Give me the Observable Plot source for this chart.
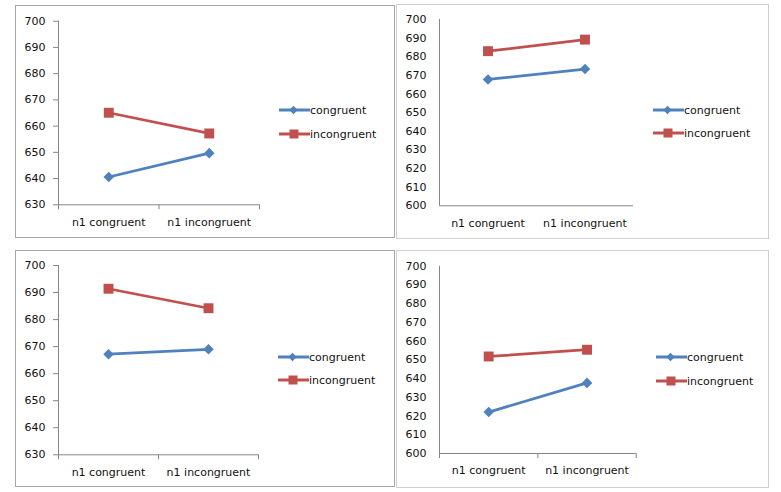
<!DOCTYPE html>
<html>
<head>
<meta charset="utf-8">
<script src="https://cdn.jsdelivr.net/npm/d3@7"></script>
<script src="https://cdn.jsdelivr.net/npm/@observablehq/plot@0.6"></script>
<style>
  html, body { margin: 0; padding: 0; background: #fff; }
  #page { position: relative; width: 781px; height: 492px; overflow: hidden; font-family: "DejaVu Sans", sans-serif; }
  .box { position: absolute; box-sizing: border-box; border: 1px solid #a6a6a6; }
  .box.light { border-color: #cfcfcf; }
  .plot { position: absolute; }
  .legend { position: absolute; font: 11px "DejaVu Sans", sans-serif; color: #111; }
  .legend .item { position: absolute; left: 0; display: flex; align-items: center; white-space: nowrap; height: 14px; }
  .legend svg { display: block; }
</style>
</head>
<body>
<div id="page"></div>
<script>
// ---- data ----
const categories = ["n1 congruent", "n1 incongruent"];
const series = ["congruent", "incongruent"];
const seriesColors = ["#4F81BD", "#C0504D"];

const panelA_congruent = [640.6, 649.7];
const panelA_incongruent = [665.1, 657.2];
const panelB_congruent = [667.8, 673.4];
const panelB_incongruent = [683.0, 689.2];
const panelC_congruent = [667.2, 669.0];
const panelC_incongruent = [691.4, 684.2];
const panelD_congruent = [622.1, 637.7];
const panelD_incongruent = [651.8, 655.4];

const yDomainA = [630, 700];
const yDomainB = [600, 700];
const yDomainC = [630, 700];
const yDomainD = [600, 700];
const yStep = 10;

// ---- layout ----
const panels = [
  {values: [panelA_congruent, panelA_incongruent], yDomain: yDomainA,
   box: {left: 15, top: 5, width: 379, height: 232}, light: false,
   margins: {top: 15.7, right: 135, bottom: 32.7, left: 43}, yTicks: true, xTicks: true,
   legend: {left: 279, top: 110, gap: 24}},
  {values: [panelB_congruent, panelB_incongruent], yDomain: yDomainB,
   box: {left: 396, top: 4, width: 372, height: 234}, light: true,
   margins: {top: 15, right: 135, bottom: 32.7, left: 43}, yTicks: false, xTicks: false,
   legend: {left: 653, top: 110, gap: 23}},
  {values: [panelC_congruent, panelC_incongruent], yDomain: yDomainC,
   box: {left: 15, top: 250, width: 379, height: 236}, light: false,
   margins: {top: 15, right: 136, bottom: 31.7, left: 43}, yTicks: true, xTicks: true,
   legend: {left: 278, top: 357, gap: 23}},
  {values: [panelD_congruent, panelD_incongruent], yDomain: yDomainD,
   box: {left: 396, top: 250, width: 372, height: 237}, light: true,
   margins: {top: 15.7, right: 132.3, bottom: 34, left: 43}, yTicks: false, xTicks: true,
   legend: {left: 656, top: 357, gap: 24}}
];

const page = document.getElementById("page");
const axisGray = "#868686";

function makePlot(p) {
  const data = series.flatMap((s, si) =>
    p.values[si].map((v, i) => ({series: s, cat: categories[i], x: i + 0.5, y: v})));
  const [lo, hi] = p.yDomain;
  return Plot.plot({
    width: p.box.width,
    height: p.box.height,
    marginTop: p.margins.top,
    marginRight: p.margins.right,
    marginBottom: p.margins.bottom,
    marginLeft: p.margins.left,
    style: {fontFamily: "DejaVu Sans, sans-serif", fontSize: "11px", background: "transparent", color: "#111"},
    x: {domain: [0, categories.length], axis: null, label: null},
    y: {domain: p.yDomain, axis: null, label: null},
    color: {domain: series, range: seriesColors},
    marks: [
      Plot.axisY({ticks: d3.range(lo, hi + 1, yStep), tickSize: p.yTicks ? 5 : 0,
                  tickPadding: p.yTicks ? 8 : 13, tickFormat: d => String(d),
                  stroke: axisGray, fill: "#111", label: null, fontSize: 11}),
      Plot.axisX({ticks: d3.range(0, categories.length + 1), tickSize: p.xTicks ? 5 : 0,
                  tickFormat: () => "", stroke: axisGray, label: null}),
      Plot.axisX({ticks: categories.map((c, i) => i + 0.5), tickSize: 0, tickPadding: 13,
                  tickFormat: d => categories[Math.round(d - 0.5)], fill: "#111", label: null, fontSize: 11}),
      Plot.ruleX([0], {stroke: axisGray}),
      Plot.ruleY([lo], {stroke: axisGray}),
      Plot.line(data, {x: "x", y: "y", z: "series", stroke: "series", strokeWidth: 2.75}),
      Plot.dot(data.filter(d => d.series === series[0]),
               {x: "x", y: "y", symbol: "square", rotate: 45, r: 4.2, fill: seriesColors[0], stroke: "none"}),
      Plot.dot(data.filter(d => d.series === series[1]),
               {x: "x", y: "y", symbol: "square", r: 5.6, fill: seriesColors[1], stroke: "none"})
    ]
  });
}

function legendHTML(p) {
  const items = series.map((s, si) => {
    const marker = si === 0
      ? `<rect x="11.5" y="3" width="6" height="6" fill="${seriesColors[si]}" transform="rotate(45 14.5 6)"/>`
      : `<rect x="10.5" y="1.5" width="9" height="9" fill="${seriesColors[si]}"/>`;
    return `<div class="item" style="top:${si * p.legend.gap - 7}px">
      <svg width="31" height="12"><line x1="0" x2="31" y1="6" y2="6" stroke="${seriesColors[si]}" stroke-width="3"/>${marker}</svg>
      <span>${s}</span></div>`;
  }).join("");
  return `<div class="legend" style="left:${p.legend.left}px;top:${p.legend.top}px">${items}</div>`;
}

panels.forEach(p => {
  const box = document.createElement("div");
  box.className = "box" + (p.light ? " light" : "");
  Object.assign(box.style, {left: p.box.left + "px", top: p.box.top + "px",
    width: (p.box.width + 1) + "px", height: (p.box.height + 1) + "px"});
  page.appendChild(box);
  const wrap = document.createElement("div");
  wrap.className = "plot";
  Object.assign(wrap.style, {left: p.box.left + "px", top: p.box.top + "px"});
  wrap.appendChild(makePlot(p));
  page.appendChild(wrap);
  page.insertAdjacentHTML("beforeend", legendHTML(p));
});
</script>
</body>
</html>
